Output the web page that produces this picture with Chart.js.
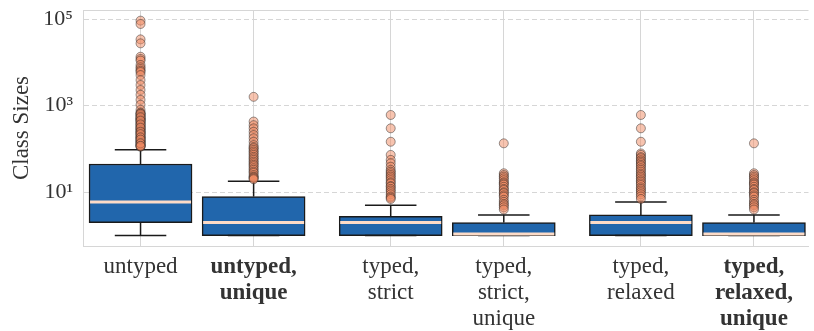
<!DOCTYPE html>
<html>
<head>
<meta charset="utf-8">
<script src="https://cdn.jsdelivr.net/npm/chart.js@4.4.0/dist/chart.umd.min.js"></script>
<style>
  html, body { margin: 0; padding: 0; background: #fff; overflow: hidden; }
  #wrap { width: 814px; height: 331px; position: relative; }
</style>
</head>
<body>
<div id="wrap"><canvas id="chart"></canvas></div>
<script>
// -- Data -----------------------------------------------------------------

const categories = [
  ['untyped'],
  ['untyped,', 'unique'],
  ['typed,', 'strict'],
  ['typed,', 'strict,', 'unique'],
  ['typed,', 'relaxed'],
  ['typed,', 'relaxed,', 'unique'],
];
const groupIndex = [0, 0, 1, 1, 2, 2];
const hueIndex = [0, 1, 0, 1, 0, 1];

const whiskerLow = [1, 1, 1, 1, 1, 1];
const q1 = [2, 1, 1, 1, 1, 1];
const medians = [6, 2, 2, 1, 2, 1];
const q3 = [45, 8, 2.8, 2, 3, 2];
const whiskerHigh = [96, 18, 5, 3, 6, 3];

const outliersUntyped = [92000, 77000, 34000, 27500, 13500, 12000, 11000, 8700, 7700,
  7000, 6400, 6000, 5100, 3900, 3000, 2300, 1780, 1360, 1050, 800, 700, 665, 620, 600,
  560, 520, 500, 480, 470, 430, 410, 390, 360, 340, 327, 300, 285, 274, 260, 240, 230,
  215, 200, 192, 180, 170, 160, 150, 147, 140, 130, 125, 120, 115, 113, 650, 540, 450,
  370, 310, 250, 220, 185, 165, 135, 118];
const outliersUntypedUnique = [1600, 430, 355, 300, 250, 210, 177, 147, 123, 110, 104,
  95, 87, 80, 73, 66, 61, 56, 51, 47, 43, 40, 36, 33, 30, 28, 25, 23, 22, 21, 20];
const outliersStrict = [610, 300, 147, 73, 56, 47, 39, 33, 30, 27.5, 25, 23, 21, 19,
  17, 16, 14, 13.4, 12, 11, 10, 9, 8, 7.5, 7];
const outliersStrictUnique = [135, 27.5, 25, 23, 21, 19, 17, 16, 15, 13.4, 12, 11.3,
  10, 9.5, 8.5, 7.9, 6.7, 6, 5.4, 5, 4.5, 4];
const outliersRelaxed = [610, 300, 147, 79, 73, 65, 61, 55, 51, 47, 43, 40, 36, 33,
  30, 27, 25, 23, 21, 19, 17.6, 16, 14.7, 13, 12, 11, 10, 9, 8, 7];
const outliersRelaxedUnique = [135, 27.5, 25, 23, 21, 19, 17, 16, 15, 13.4, 12, 11.3,
  10, 9.5, 8.5, 7.9, 6.7, 6, 5.4, 5, 4.5, 4];
const outliers = [outliersUntyped, outliersUntypedUnique, outliersStrict,
  outliersStrictUnique, outliersRelaxed, outliersRelaxedUnique];

const yTicks = [10, 1000, 100000];
const yLabel = 'Class Sizes';

// -- Style ----------------------------------------------------------------

const FONT = "'Liberation Serif', 'Times New Roman', serif";
const TEXT = '#333';
const BOX_FILL = '#2166ac';
const MEDIAN = '#fddbc7';
const LINE = '#1a1a1a';
const GRID = '#d6d6d6';
const boldTicks = [1, 5];
const hueOffset = 0.226;   // seaborn-style dodge within a group
const xPos = groupIndex.map((g, i) => g + (hueIndex[i] ? hueOffset : -hueOffset));

const superDigits = { '0': '⁰', '1': '¹', '2': '²', '3': '³', '4': '⁴', '5': '⁵' };

// -- Box-plot extras drawn through the scales -----------------------------

const boxExtras = {
  id: 'boxExtras',
  beforeDatasetsDraw(chart) {
    const { ctx, chartArea } = chart;
    ctx.save();
    ctx.strokeStyle = GRID;
    ctx.lineWidth = 1;
    ctx.beginPath();
    ctx.moveTo(chartArea.left, chartArea.top + 0.5);
    ctx.lineTo(chartArea.right, chartArea.top + 0.5);
    ctx.stroke();
    ctx.restore();
  },
  afterDatasetDraw(chart, args) {
    if (args.index !== 0) return;
    const { ctx } = chart;
    const y = chart.scales.y;
    const bars = args.meta.data;
    ctx.save();
    bars.forEach((bar, i) => {
      const x = bar.x;
      const half = bar.width / 2;
      const cap = half / 2;
      // whiskers
      ctx.strokeStyle = LINE;
      ctx.lineWidth = 1.5;
      ctx.beginPath();
      ctx.moveTo(x, y.getPixelForValue(q3[i]));
      ctx.lineTo(x, y.getPixelForValue(whiskerHigh[i]));
      ctx.moveTo(x - cap, y.getPixelForValue(whiskerHigh[i]));
      ctx.lineTo(x + cap, y.getPixelForValue(whiskerHigh[i]));
      ctx.moveTo(x, y.getPixelForValue(q1[i]));
      ctx.lineTo(x, y.getPixelForValue(whiskerLow[i]));
      ctx.moveTo(x - cap, y.getPixelForValue(whiskerLow[i]));
      ctx.lineTo(x + cap, y.getPixelForValue(whiskerLow[i]));
      ctx.stroke();
      // median
      const my = y.getPixelForValue(medians[i]);
      ctx.strokeStyle = MEDIAN;
      ctx.lineWidth = 3;
      ctx.beginPath();
      ctx.moveTo(x - half + 1, Math.min(my, bar.base - 1.5));
      ctx.lineTo(x + half - 1, Math.min(my, bar.base - 1.5));
      ctx.stroke();
    });
    ctx.restore();
  },
};

// -- Chart ----------------------------------------------------------------

const boxData = xPos.map((x, i) => ({ x, y: [q1[i], q3[i]] }));
const flierData = [];
outliers.forEach((list, i) => list.forEach((v) => flierData.push({ x: xPos[i], y: v })));

new Chart(document.getElementById('chart'), {
  type: 'bar',
  data: {
    datasets: [
      {
        type: 'bar',
        data: boxData,
        order: 1,
        backgroundColor: BOX_FILL,
        borderColor: LINE,
        borderWidth: 1.5,
        borderSkipped: false,
        barThickness: 103,
      },
      {
        type: 'scatter',
        data: flierData,
        order: 0,
        pointRadius: 4.5,
        pointBackgroundColor: 'rgba(239, 138, 98, 0.5)',
        pointBorderColor: 'rgba(30, 30, 30, 0.45)',
        pointBorderWidth: 1,
      },
    ],
  },
  options: {
    responsive: true,
    maintainAspectRatio: false,
    animation: false,
    layout: { padding: { top: 10, left: 0, right: 0, bottom: 0 } },
    plugins: {
      legend: { display: false },
      tooltip: { enabled: false },
    },
    scales: {
      x: {
        type: 'linear',
        min: -0.456,
        max: 2.444,
        offset: false,
        grid: { color: GRID, lineWidth: 1, drawTicks: false, offset: false },
        border: { color: GRID, width: 1 },
        afterBuildTicks: (axis) => { axis.ticks = xPos.map((v) => ({ value: v })); },
        afterFit: (axis) => {
          axis.height = 85;
          axis.paddingLeft = 0;
          axis.paddingRight = 0;
        },
        ticks: {
          autoSkip: false,
          maxRotation: 0,
          padding: 8,
          color: TEXT,
          font: (ctx) => ({
            family: FONT,
            size: 23,
            lineHeight: 26 / 23,
            weight: boldTicks.includes(ctx.index) ? 'bold' : 'normal',
          }),
          callback: (value, index) => categories[index],
        },
      },
      y: {
        type: 'logarithmic',
        min: 0.575,
        max: 162000,
        grid: { color: GRID, lineWidth: 1, drawTicks: false },
        border: { color: GRID, width: 1, dash: [5, 3] },
        afterBuildTicks: (axis) => { axis.ticks = yTicks.map((v) => ({ value: v })); },
        afterFit: (axis) => {
          axis.width = 83;
          axis.paddingTop = 0;
          axis.paddingBottom = 0;
        },
        ticks: {
          padding: 10,
          color: TEXT,
          font: { family: FONT, size: 22 },
          callback: (value) => {
            const exp = String(Math.round(Math.log10(value)));
            return '10' + exp.split('').map((d) => superDigits[d]).join('');
          },
        },
        title: {
          display: true,
          text: yLabel,
          color: TEXT,
          padding: { top: 10, bottom: 0 },
          font: { family: FONT, size: 23, lineHeight: 1 },
        },
      },
    },
  },
  plugins: [boxExtras],
});
</script>
</body>
</html>
